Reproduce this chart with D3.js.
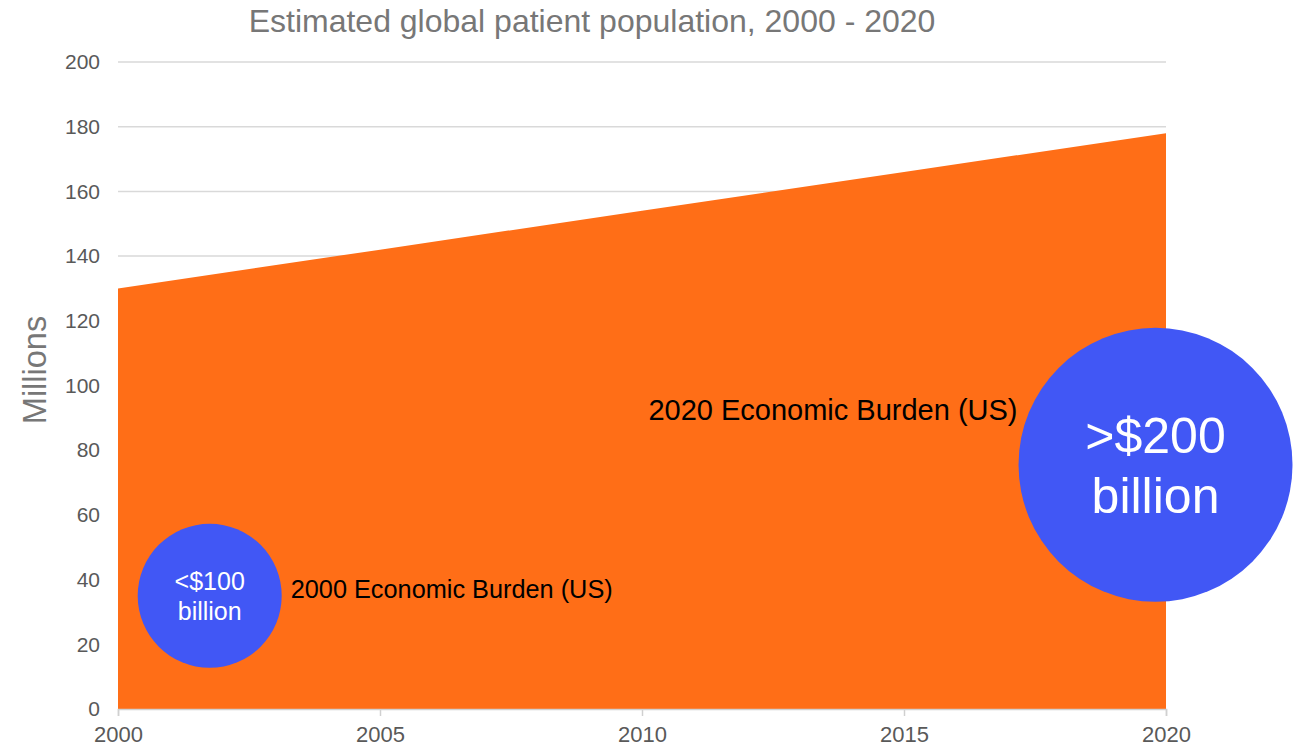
<!DOCTYPE html>
<html>
<head>
<meta charset="utf-8">
<script src="https://cdn.jsdelivr.net/npm/d3@7"></script>
<style>
  body { margin: 0; background: #fff; }
  text { font-family: "Liberation Sans", Arial, sans-serif; }
</style>
</head>
<body>
<div id="chart"></div>
<script>
// patient population, millions
const years = [2000, 2005, 2010, 2015, 2020];
const patients = [130, 142, 154, 166, 178];

// economic burden bubbles (US, $ billion)
const burdenYears = [2001.75, 2019.8];
const burdenLevels = [35, 75.5];
const burdenValues = [100, 200];
const burdenText = [["<$100", "billion"], [">$200", "billion"]];
const burdenLabels = ["2000 Economic Burden (US)", "2020 Economic Burden (US)"];

const yTicks = [0, 20, 40, 60, 80, 100, 120, 140, 160, 180, 200];
const xTicks = [2000, 2005, 2010, 2015, 2020];

const width = 1296, height = 746;
const margin = {top: 62, right: 130, bottom: 37, left: 118};

const svg = d3.select("#chart").append("svg")
  .attr("width", width)
  .attr("height", height);

const x = d3.scaleLinear().domain([2000, 2020]).range([margin.left, width - margin.right]);
const y = d3.scaleLinear().domain([0, 200]).range([height - margin.bottom, margin.top]);
const r = d3.scaleLinear().domain([100, 200]).range([72, 137]);

// gridlines
svg.append("g").selectAll("line")
  .data(yTicks.slice(1))
  .join("line")
    .attr("x1", x(2000)).attr("x2", x(2020))
    .attr("y1", d => y(d)).attr("y2", d => y(d))
    .attr("stroke", "#d9d9d9")
    .attr("stroke-width", 1.5);

// area
const area = d3.area()
  .x((d, i) => x(years[i]))
  .y0(y(0))
  .y1(d => y(d));

svg.append("path")
  .datum(patients)
  .attr("d", area)
  .attr("fill", "#ff6e17");

// y axis
const yAxis = svg.append("g")
  .attr("transform", `translate(${margin.left},0)`)
  .call(d3.axisLeft(y).tickValues(yTicks).tickSize(0).tickPadding(18));
yAxis.select(".domain").remove();
yAxis.selectAll("text")
  .attr("fill", "#595959")
  .style("font-size", "21px");

// x axis
const xAxis = svg.append("g")
  .attr("transform", `translate(0,${y(0)})`)
  .call(d3.axisBottom(x).tickValues(xTicks).tickFormat(d3.format("d")).tickSize(7).tickPadding(10));
xAxis.select(".domain").attr("stroke", "#d0d0d0").attr("stroke-width", 1.5);
xAxis.selectAll(".tick line").attr("stroke", "#d0d0d0").attr("stroke-width", 1.5);
xAxis.selectAll("text")
  .attr("fill", "#595959")
  .style("font-size", "22px");

// bubbles
const bubbles = svg.append("g").selectAll("g")
  .data(burdenValues)
  .join("g")
    .attr("transform", (d, i) => `translate(${x(burdenYears[i])},${y(burdenLevels[i])})`);

bubbles.append("circle")
  .attr("r", d => r(d))
  .attr("fill", "#4157f5");

bubbles.each(function(d, i) {
  const g = d3.select(this);
  const fs = i === 0 ? 25 : 50;
  const gap = i === 0 ? 30 : 60;
  const base = i === 0 ? -6 : -12;
  g.selectAll("text.val")
    .data(burdenText[i])
    .join("text")
      .attr("class", "val")
      .attr("text-anchor", "middle")
      .attr("y", (t, j) => base + j * gap)
      .attr("fill", "#fff")
      .style("font-size", fs + "px")
      .text(t => t);
});

// bubble captions
svg.append("text")
  .attr("x", x(burdenYears[0]) + r(burdenValues[0]) + 9)
  .attr("y", y(burdenLevels[0]) + 2)
  .attr("fill", "#000")
  .style("font-size", "25.3px")
  .text(burdenLabels[0]);

svg.append("text")
  .attr("x", x(burdenYears[1]) - r(burdenValues[1]) - 1)
  .attr("y", y(burdenLevels[1]) - 45)
  .attr("text-anchor", "end")
  .attr("fill", "#000")
  .style("font-size", "29px")
  .text(burdenLabels[1]);

// title
svg.append("text")
  .attr("x", 592)
  .attr("y", 32)
  .attr("text-anchor", "middle")
  .attr("fill", "#777")
  .style("font-size", "32px")
  .text("Estimated global patient population, 2000 - 2020");

// y label
svg.append("text")
  .attr("transform", `translate(46,370) rotate(-90)`)
  .attr("text-anchor", "middle")
  .attr("fill", "#777")
  .style("font-size", "32.5px")
  .text("Millions");
</script>
</body>
</html>
